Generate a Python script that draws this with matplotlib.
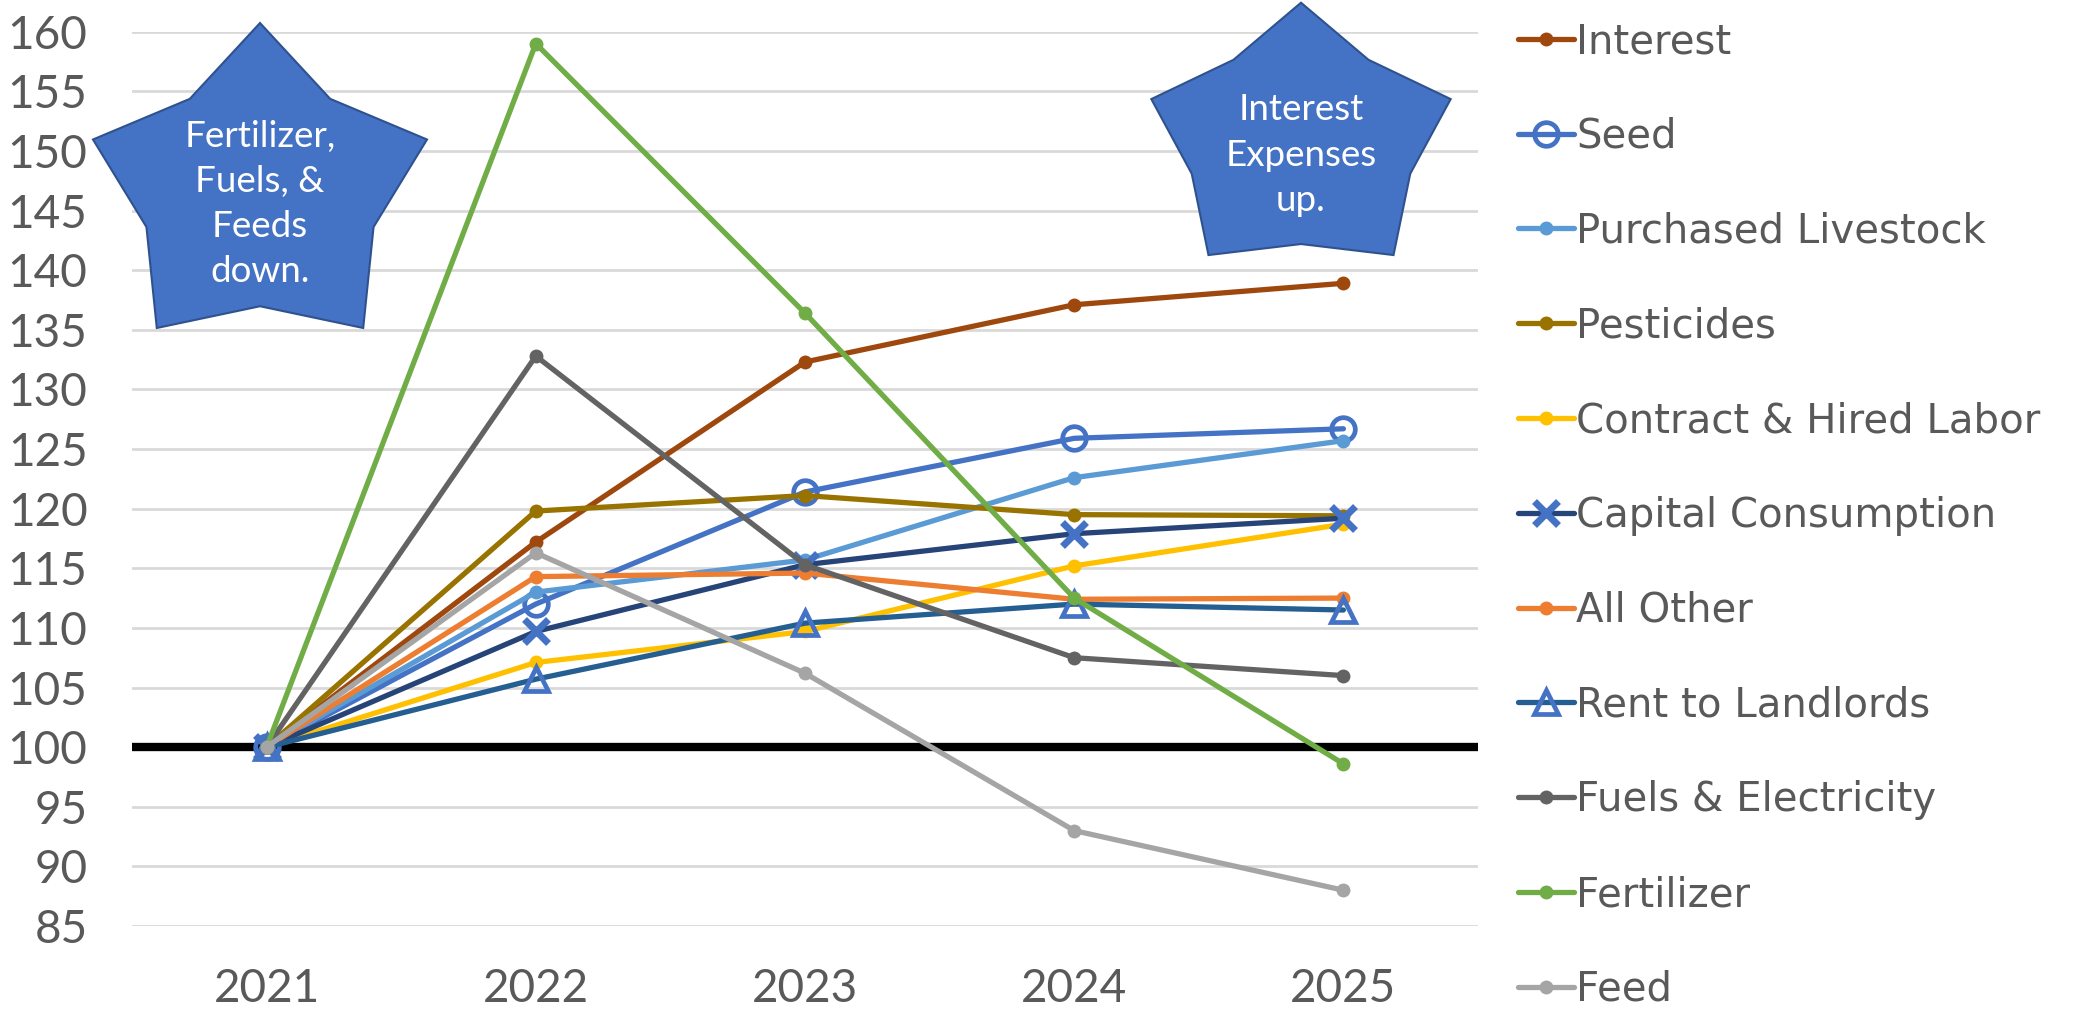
import numpy as np
import matplotlib
matplotlib.use("Agg")
import matplotlib.pyplot as plt
from matplotlib.patches import Polygon

# index values, 2021 = 100
years = ["2021", "2022", "2023", "2024", "2025"]

interest = [100, 117.2, 132.3, 137.1, 138.9]
seed = [100, 112.0, 121.4, 125.9, 126.7]
purchased_livestock = [100, 113.0, 115.7, 122.6, 125.7]
pesticides = [100, 119.8, 121.1, 119.5, 119.4]
contract_labor = [100, 107.1, 109.7, 115.2, 118.7]
capital_consumption = [100, 109.7, 115.3, 117.9, 119.2]
all_other = [100, 114.3, 114.6, 112.4, 112.5]
rent_landlords = [100, 105.7, 110.4, 112.0, 111.5]
fuels_electricity = [100, 132.8, 115.3, 107.5, 106.0]
fertilizer = [100, 159.0, 136.4, 112.5, 98.6]
feed = [100, 116.3, 106.2, 93.0, 88.0]

series = [
    ("Interest", interest, "#9E480E", "dot"),
    ("Seed", seed, "#4472C4", "circle"),
    ("Purchased Livestock", purchased_livestock, "#5B9BD5", "dot"),
    ("Pesticides", pesticides, "#997300", "dot"),
    ("Contract & Hired Labor", contract_labor, "#FFC000", "dot"),
    ("Capital Consumption", capital_consumption, "#264478", "cross"),
    ("All Other", all_other, "#ED7D31", "dot"),
    ("Rent to Landlords", rent_landlords, "#255E91", "triangle"),
    ("Fuels & Electricity", fuels_electricity, "#636363", "dot"),
    ("Fertilizer", fertilizer, "#70AD47", "dot"),
    ("Feed", feed, "#A5A5A5", "dot"),
]

MARKER_BLUE = "#4472C4"
TEXT_GREY = "#595959"
W, H = 2088, 1017

fig = plt.figure(figsize=(W / 100, H / 100), dpi=100)
ax = fig.add_axes([132 / W, 1 - 926 / H, (1478 - 132) / W, (926 - 31.7) / H])

x = np.arange(len(years))
for name, vals, color, style in series:
    kw = dict(color=color, lw=3.8, label=name, solid_capstyle="round")
    if style == "dot":
        kw.update(marker="o", ms=9, mfc=color, mec=color)
    elif style == "circle":
        kw.update(marker="o", ms=17, mfc="none", mec=MARKER_BLUE, mew=3.4)
    elif style == "cross":
        kw.update(marker="x", ms=17, mec=MARKER_BLUE, mew=5)
    elif style == "triangle":
        kw.update(marker="^", ms=17, mfc="none", mec=MARKER_BLUE, mew=3.4)
    ax.plot(x, vals, zorder=3, **kw)

# baseline at 100
ax.axhline(100, color="black", lw=6, zorder=2)

ax.set_xlim(-0.5, len(years) - 0.5)
ax.set_ylim(85, 160)
ax.set_yticks(np.arange(85, 161, 5))
ax.set_xticks(x)
ax.set_xticklabels(years)
ax.grid(axis="y", color="#D9D9D9", lw=2)
ax.set_axisbelow(True)
for sp in ax.spines.values():
    sp.set_visible(False)
ax.tick_params(length=0, labelsize=33, labelcolor=TEXT_GREY)
ax.tick_params(axis="y", pad=32)
ax.tick_params(axis="x", pad=30)
for lab in ax.get_xticklabels() + ax.get_yticklabels():
    lab.set_family("Lato")

leg = fig.legend(loc="upper left", bbox_to_anchor=(1518 / W, 1 - 22 / H),
                 frameon=False, fontsize=29, handlelength=1.4,
                 handletextpad=0.05, labelspacing=1.36,
                 borderaxespad=0, borderpad=0)
for t in leg.get_texts():
    t.set_color(TEXT_GREY)


def star(cx, cy, rx, ry, inner):
    # five point star in pixel coords (y down), returned as figure fractions
    pts = []
    for i in range(10):
        ang = np.deg2rad(90 + 36 * i)
        r = 1.0 if i % 2 == 0 else inner
        px = cx + rx * r * np.cos(ang)
        py = cy - ry * r * np.sin(ang)
        pts.append((px / W, 1 - py / H))
    return pts


callouts = [
    (260, 191.6, 175.6, 168.6, 0.68, 204, "Fertilizer,\nFuels, &\nFeeds\ndown."),
    (1301, 142.2, 157.4, 139.5, 0.73, 155, "Interest\nExpenses\nup."),
]
for cx, cy, rx, ry, inner, ty, label in callouts:
    poly = Polygon(star(cx, cy, rx, ry, inner), closed=True,
                   facecolor="#4472C4", edgecolor="#2F528F", lw=1.5,
                   transform=fig.transFigure, zorder=5)
    fig.add_artist(poly)
    fig.text(cx / W, 1 - ty / H, label, ha="center", va="center",
             color="white", fontsize=26.5, family="Lato", linespacing=1.45,
             zorder=6)

fig.savefig("out.png", dpi=100)
